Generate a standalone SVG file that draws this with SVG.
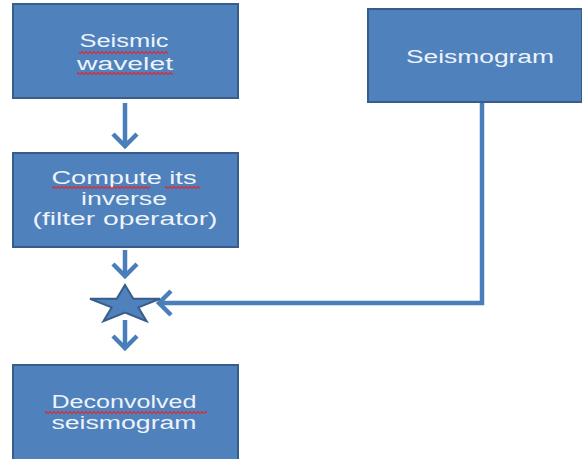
<svg xmlns="http://www.w3.org/2000/svg" width="582" height="459" viewBox="0 0 582 459">
<style>
.box{fill:#4F81BD;stroke:#385D8A;stroke-width:2}
.t{font-family:"Liberation Sans",Arial,sans-serif;font-size:18px;fill:#EEF3FA;text-anchor:middle}
.c{fill:none;stroke:#4A7EBB;stroke-width:4.5;stroke-linejoin:miter}
.w{fill:url(#wave)}
</style>
<defs>
<marker id="ah" markerUnits="userSpaceOnUse" markerWidth="30" markerHeight="30" viewBox="-16 -15 20 30" refX="0" refY="0" orient="auto">
<path d="M-12 -12 L0 0 L-12 12" fill="none" stroke="#4A7EBB" stroke-width="4.5"/>
</marker>
<pattern id="wave" width="4" height="3" patternUnits="userSpaceOnUse">
<path d="M0 2.5 L2 0.5 L4 2.5" fill="none" stroke="#E0282E" stroke-width="1.2"/>
</pattern>
</defs>
<g id="connectors">
<path class="c" d="M125 103 V146" marker-end="url(#ah)"/>
<path class="c" d="M125 250 V276" marker-end="url(#ah)"/>
<path class="c" d="M125 320 V348" marker-end="url(#ah)"/>
<path class="c" d="M482 102 V303 H159" marker-end="url(#ah)"/>
</g>
<g id="wavelet">
<rect class="box" x="13" y="4" width="225" height="94"/>
<text class="t" x="124" y="47" textLength="89" lengthAdjust="spacingAndGlyphs">Seismic</text>
<text class="t" x="125" y="70" textLength="96" lengthAdjust="spacingAndGlyphs">wavelet</text>
<rect class="w" x="79" y="51" width="89" height="3"/>
<rect class="w" x="77" y="72" width="96" height="3"/>
</g>
<g id="seismogram">
<rect class="box" x="368" y="9" width="214" height="93"/>
<text class="t" x="480" y="63" textLength="148" lengthAdjust="spacingAndGlyphs">Seismogram</text>
</g>
<g id="inverse">
<rect class="box" x="13" y="153" width="225" height="94"/>
<text class="t" x="124" y="184" textLength="145" lengthAdjust="spacingAndGlyphs">Compute its</text>
<text class="t" x="124" y="205" textLength="86" lengthAdjust="spacingAndGlyphs">inverse</text>
<text class="t" x="125" y="225" textLength="185" lengthAdjust="spacingAndGlyphs">(filter operator)</text>
<rect class="w" x="52" y="186" width="98" height="3"/>
<rect class="w" x="165" y="186" width="35" height="3"/>
</g>
<g id="star">
<polygon points="125,285 133.3,298.8 160,298.8 138.4,307.4 146.6,321.2 125,312.6 103.4,321.2 111.6,307.4 90,298.8 116.7,298.8" fill="#4F81BD" stroke="#385D8A" stroke-width="2" stroke-linejoin="miter"/>
</g>
<g id="deconvolved">
<rect class="box" x="13" y="365" width="225" height="100"/>
<text class="t" x="124" y="408" textLength="145" lengthAdjust="spacingAndGlyphs">Deconvolved</text>
<text class="t" x="124" y="429" textLength="145" lengthAdjust="spacingAndGlyphs">seismogram</text>
<rect class="w" x="45" y="411" width="162" height="3"/>
</g>
</svg>
